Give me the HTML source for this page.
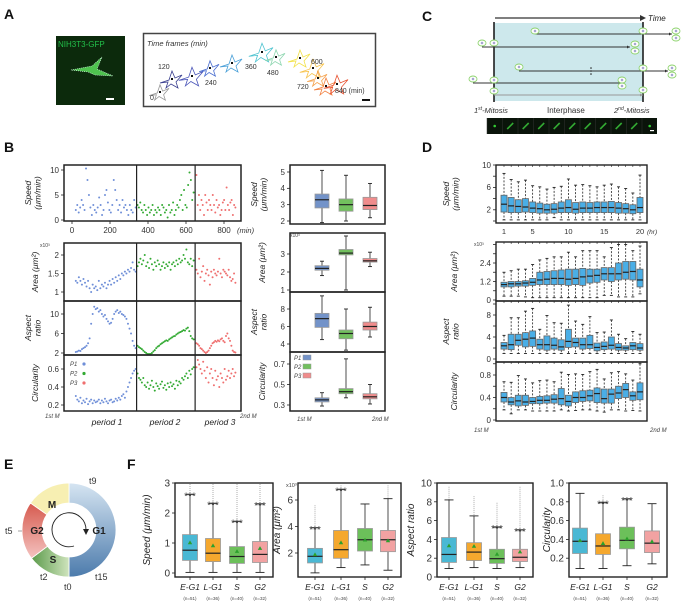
<!DOCTYPE html>
<html><head><meta charset="utf-8"><style>
html,body{margin:0;padding:0;background:#fff;}
svg{display:block;font-family:"Liberation Sans",sans-serif;}
</style></head><body>
<svg id="fig" width="685" height="604" viewBox="0 0 685 604" xmlns="http://www.w3.org/2000/svg">
<g font-weight="bold" font-size="14" fill="#111">
<text x="4" y="19">A</text>
<text x="4" y="152">B</text>
<text x="422" y="21">C</text>
<text x="422" y="152">D</text>
<text x="4" y="469">E</text>
<text x="127" y="469">F</text>
</g>
<!-- Panel A -->
<g>
<rect x="56" y="36" width="69" height="69" fill="#0c2a0c"/>
<text x="58" y="47" font-size="8" fill="#22c04a">NIH3T3-GFP</text>
<path d="M71,70 L92,66 L102,57 L97,69 L113,76 L95,75 L88,72 Z" fill="#4fc24f" stroke="#dfe" stroke-width="0.6" stroke-dasharray="1,1"/>
<rect x="106" y="98" width="8" height="2" fill="#fff"/>
<rect x="143.5" y="33.5" width="232" height="73" fill="#fff" stroke="#444" stroke-width="1.5"/>
<text x="147" y="46" font-size="7.5" font-style="italic" fill="#333">Time frames (min)</text>
<g id="cells"></g>
<g font-size="7" fill="#333">
<text x="150" y="100">0</text><text x="158" y="69">120</text><text x="205" y="85">240</text><text x="245" y="69">360</text><text x="267" y="75">480</text><text x="311" y="64">600</text><text x="297" y="89">720</text><text x="335" y="93">840 (min)</text>
</g>
<rect x="362" y="99" width="8" height="2" fill="#111"/>
</g>
<!-- Panel C -->
<g>
<line x1="495" y1="18" x2="640" y2="18" stroke="#333" stroke-width="1.3"/>
<path d="M640,15 L646,18 L640,21 Z" fill="#333"/>
<text x="648" y="21" font-size="8" font-style="italic" fill="#222">Time</text>
<rect x="494" y="23" width="149" height="78" fill="#cde8ec"/>
<line x1="494" y1="22" x2="494" y2="102" stroke="#111" stroke-width="1.5"/>
<line x1="643" y1="22" x2="643" y2="102" stroke="#111" stroke-width="1.5"/>
<g id="lineage"></g>
<text x="474" y="113" font-size="7.5" font-style="italic" fill="#333">1<tspan font-size="5" dy="-3">st</tspan><tspan dy="3">-Mitosis</tspan></text>
<text x="547" y="113" font-size="8" fill="#333">Interphase</text>
<text x="614" y="113" font-size="7.5" font-style="italic" fill="#333">2<tspan font-size="5" dy="-3">nd</tspan><tspan dy="3">-Mitosis</tspan></text>
<g id="strip"></g>
</g>
<g id="panelB"></g>
<g id="panelD"></g>
<!-- Panel E -->
<g>
<defs>
<linearGradient id="gG1" x1="0" y1="0" x2="0" y2="1"><stop offset="0" stop-color="#d6e5f2"/><stop offset="1" stop-color="#4c7bac"/></linearGradient>
<linearGradient id="gG2" x1="0" y1="0" x2="0" y2="1"><stop offset="0" stop-color="#d65a4e"/><stop offset="1" stop-color="#f4c3c0"/></linearGradient>
<linearGradient id="gS" x1="0" y1="0" x2="1" y2="0"><stop offset="0" stop-color="#5b9a4a"/><stop offset="1" stop-color="#cfe4bd"/></linearGradient>
</defs>
<g id="ring"></g>
</g>
<g id="panelF"></g>
</svg>
<script>
// ---------- Panel B data ----------
const bSpeedP1=[2,3,1.5,2.5,4,3,2,10.3,8,5,2.5,1,3,2,1.5,2.5,4.5,3,1,2,5,6,3.5,2,1.5,3,8,6,4,2,3,1.5,4,2.5,3,2,1,3,2,1.5,4,2.5];
const bSpeedP2=[3,2.5,3.5,2,1.5,3,2,1,2.5,1.5,2,3,1,2,1.5,2.5,2,1,3,2.5,1.5,2,0.5,3,1.5,2,3.5,1,2,3,2.5,4,5,2,6,3,2.5,7,9.5,8,4,5.5];
const bSpeedP3=[9,3,5,2,4,3,1,5,3.5,2,4,3,2,5,3,1.5,4,2.5,3,1,2,3.5,4,2,6.5,3,2,3.5,4,1,3,2.5];
const bAreaP1=[1.3,1.25,1.4,1.3,1.2,1.35,1.25,1.15,1.3,1.1,1.0,1.2,1.1,1.15,1.05,1.3,1.1,1.2,1.15,1.25,1.1,1.2,1.3,1.2,1.35,1.25,1.4,1.3,1.45,1.35,1.5,1.45,1.55,1.5,1.6,1.55,1.65,1.8,1.6,1.55];
const bAreaP2=[1.7,1.8,1.9,1.75,1.85,2.0,1.7,1.8,1.65,1.9,1.75,1.6,1.8,1.7,1.85,1.75,1.6,1.7,1.8,1.65,1.75,1.7,1.8,1.6,1.75,1.8,1.7,1.85,1.75,1.9,1.8,1.85,2.0,1.9,2.15,1.8,1.75,1.9,1.7,1.85];
const bAreaP3=[1.6,1.5,1.9,1.4,1.55,1.7,1.3,1.5,1.6,1.45,1.2,1.55,1.4,1.6,1.5,1.45,1.55,1.9,1.5,1.4,1.6,1.55,1.5,1.45,1.6,1.4,1.3,1.35,1.5,1.25];
const bAspP1=[2.2,2.3,2.5,2.4,2.8,3,3.2,3.5,4,5,8,10,11.5,11,11.2,10.5,10.8,10,9.5,9.8,9,8.5,8,8.2,9,10,10.5,10.8,10.2,10.5,10,9.8,9.5,9,8,7,6,4.5,3.5,3];
const bAspP2=[3.5,3.2,3,2.8,2.5,2.2,2,1.8,1.7,1.8,2,2.3,2.6,3,3.3,3.5,3.8,4,4.2,4.4,4.6,4.5,4.8,5,5.2,5.4,5.5,5.8,6,6.2,6.3,6.5,6.7,6.6,7,7.2,6.5,5.5,5,4.8];
const bAspP3=[4,3.8,3.5,3,2.8,2.5,2.2,2,2.2,2.5,3,3.5,4,4.2,4.5,4.3,4.6,4.4,4.8,5,4.5,4.2,5.5,6,5,4.5,3.5,2.5,2.2,2.1];
const bCircP1=[0.3,0.26,0.24,0.28,0.22,0.25,0.23,0.27,0.21,0.24,0.26,0.22,0.25,0.23,0.24,0.26,0.22,0.25,0.23,0.27,0.24,0.22,0.25,0.26,0.23,0.24,0.27,0.25,0.28,0.26,0.3,0.32,0.28,0.35,0.4,0.45,0.5,0.55,0.58,0.6];
const bCircP2=[0.55,0.5,0.48,0.45,0.5,0.42,0.4,0.45,0.38,0.42,0.47,0.4,0.36,0.44,0.41,0.38,0.43,0.46,0.39,0.42,0.37,0.44,0.4,0.45,0.41,0.43,0.38,0.47,0.42,0.46,0.44,0.5,0.48,0.52,0.55,0.5,0.58,0.54,0.6,0.62];
const bCircP3=[0.62,0.7,0.65,0.6,0.55,0.68,0.58,0.5,0.62,0.45,0.55,0.6,0.5,0.42,0.58,0.48,0.52,0.4,0.55,0.5,0.45,0.6,0.48,0.52,0.58,0.5,0.55,0.6,0.52,0.56];
const periodStartMin=[20,345,655];
const periodEndMin=[335,640,860];
const bBoxSpeed=[[1.9,2.8,3.3,3.65,5.1],[2.0,2.6,3.0,3.35,4.8],[2.2,2.7,2.95,3.45,4.3]];
const bBoxArea=[[1.8,2.1,2.2,2.35,2.6],[1.0,2.95,3.05,3.25,4.0],[2.3,2.55,2.62,2.75,3.1]];
const bBoxAsp=[[4.5,5.9,6.9,7.5,9.5],[3.3,4.6,5.2,5.6,8.0],[4.8,5.6,6.0,6.5,8.2]];
const bBoxCirc=[[0.29,0.33,0.35,0.37,0.42],[0.37,0.41,0.43,0.46,0.75],[0.31,0.36,0.38,0.41,0.5]];
// ---------- Panel D data ----------
const dHours=[1,2,3,4,5,6,7,8,9,10,11,12,13,14,15,16,17,18,19,20];
const dSpeedMed=[3.0,2.7,2.6,2.5,2.3,2.2,2.0,2.1,2.3,2.4,2.1,2.3,2.3,2.4,2.4,2.4,2.3,2.2,2.0,2.4];
const dSpeedQ1=[1.6,1.5,1.5,1.6,1.5,1.4,1.4,1.4,1.5,1.5,1.4,1.5,1.5,1.5,1.5,1.5,1.4,1.4,1.3,1.5];
const dSpeedQ3=[4.6,4.2,3.8,4.0,3.4,3.2,3.0,3.1,3.4,3.8,3.3,3.4,3.3,3.4,3.4,3.5,3.3,3.1,2.9,4.2];
const dSpeedHi=[8.5,7.4,7.0,7.3,6.3,6.1,5.7,6.0,6.2,7.5,6.4,6.5,6.3,6.1,6.4,6.6,6.1,5.8,5.0,8.2];
const dSpeedLo=[0.2,0.2,0.2,0.2,0.2,0.2,0.2,0.6,0.2,0.2,0.2,0.2,0.2,0.2,0.2,0.2,0.2,0.2,0.2,0.2];
const dAreaMed=[1.0,1.05,1.05,1.1,1.15,1.3,1.35,1.4,1.4,1.35,1.4,1.5,1.55,1.6,1.7,1.7,1.7,1.8,1.85,1.3];
const dAreaQ1=[0.85,0.85,0.9,0.9,0.95,1.0,1.0,1.0,1.0,0.95,1.0,0.95,1.1,1.15,1.3,1.2,1.3,1.35,1.3,0.85];
const dAreaQ3=[1.15,1.2,1.2,1.25,1.4,1.8,1.85,1.9,1.95,2.0,2.0,2.05,2.0,2.0,2.1,2.1,2.4,2.5,2.5,2.0];
const dAreaHi=[1.8,1.9,2.0,2.0,2.3,2.6,2.7,2.8,2.8,3.1,2.8,3.2,3.2,3.2,2.8,3.4,3.6,3.6,3.2,3.5];
const dAreaLo=[0.25,0.25,0.25,0.2,0.15,0.15,0.15,0.15,0.15,0.15,0.15,0.15,0.15,0.15,0.3,0.3,0.2,0.2,0.2,0.4];
const dAspMed=[2.4,2.6,3.4,3.6,3.8,2.6,2.6,2.5,2.2,3.2,3.0,2.6,2.6,2.1,2.3,2.5,2.1,2.0,2.4,2.0];
const dAspQ1=[1.8,1.7,2.5,2.2,2.3,1.8,1.6,1.8,1.6,2.1,2.2,1.8,1.9,1.5,1.7,1.8,1.6,1.6,1.7,1.6];
const dAspQ3=[3.0,4.5,4.5,4.8,5.1,3.6,4.2,3.8,3.5,5.4,3.8,3.8,4.3,2.9,3.1,4.0,2.8,2.4,3.0,2.8];
const dAspHi=[4.3,7.5,7.5,8.7,9.2,5.4,7.9,6.6,6.5,9.8,6.9,6.3,7.7,4.8,4.9,7.1,4.5,3.7,5.0,4.5];
const dAspLo=[1.0,1.0,1.0,1.0,1.0,1.0,1.0,1.0,1.0,1.0,1.0,1.0,1.0,1.0,1.0,1.0,1.0,1.0,1.0,1.0];
const dCircMed=[0.40,0.32,0.34,0.32,0.33,0.35,0.35,0.37,0.38,0.33,0.40,0.40,0.43,0.47,0.38,0.46,0.48,0.54,0.43,0.50];
const dCircQ1=[0.32,0.27,0.25,0.26,0.29,0.29,0.30,0.30,0.27,0.25,0.31,0.33,0.34,0.31,0.30,0.30,0.38,0.40,0.35,0.36];
const dCircQ3=[0.49,0.40,0.44,0.44,0.40,0.42,0.43,0.45,0.56,0.44,0.50,0.52,0.53,0.57,0.55,0.55,0.60,0.65,0.50,0.66];
const dCircHi=[0.68,0.67,0.79,0.73,0.66,0.70,0.71,0.68,0.85,0.81,0.82,0.81,0.86,0.90,0.73,0.84,0.86,0.82,0.71,1.0];
const dCircLo=[0.18,0.11,0.18,0.18,0.16,0.16,0.16,0.16,0.18,0.16,0.17,0.18,0.18,0.16,0.14,0.18,0.18,0.16,0.17,0.16];
// ---------- Panel F data ----------
const fPhases=["E-G1","L-G1","S","G2"];
const fCounts=["(n=51)","(n=36)","(n=40)","(n=32)"];
const fSpeedStats=[[0.02,0.42,0.76,1.28,2.62],[0.02,0.38,0.66,1.15,2.32],[0.02,0.32,0.55,0.88,1.72],[0.02,0.35,0.62,1.05,2.3]];
const fSpeedMean=[1.02,0.92,0.73,0.83];
const fSpeedOutMax=[3,3,3,3];
const fSpeedSig=[true,true,true,true];
const fAreaStats=[[0.5,1.25,1.75,2.35,3.9],[0.9,1.6,2.25,3.7,6.8],[1.1,2.15,3.0,3.85,5.7],[0.7,2.1,3.0,3.7,6.1]];
const fAreaMean=[1.9,2.8,3.0,2.95];
const fAreaOutMax=[5.6,7.1,5.7,7.1];
const fAreaSig=[true,true,false,false];
const fAspStats=[[0.9,1.55,2.4,4.2,8.2],[1.0,1.75,2.65,3.65,6.5],[0.9,1.45,1.95,2.95,5.3],[1.0,1.65,2.1,2.95,5.0]];
const fAspMean=[3.35,3.3,2.45,2.7];
const fAspOutMax=[9.6,8.6,7.9,9.6];
const fAspSig=[false,false,true,true];
const fCircStats=[[0.09,0.25,0.38,0.52,0.89],[0.09,0.24,0.33,0.46,0.79],[0.12,0.30,0.39,0.53,0.83],[0.14,0.26,0.36,0.49,0.78]];
const fCircMean=[0.39,0.36,0.41,0.38];
const fCircOutMax=[0.89,0.87,0.83,0.78];
const fCircSig=[false,true,true,false];

const NS="http://www.w3.org/2000/svg";
function mk(parent,tag,attrs,name){
  const el=document.createElementNS(NS,tag);
  for(const k in attrs) el.setAttribute(k,attrs[k]);
  
  
  parent.appendChild(el);return el;
}
function txt(parent,x,y,s,attrs,name){
  const t=mk(parent,'text',Object.assign({x:x,y:y},attrs||{}),name);t.textContent=s;return t;
}
function lin(d0,d1,r0,r1){return v=>r0+(v-d0)*(r1-r0)/(d1-d0);}

(function(){
  const g=document.getElementById('cells');
  const shapes=[[160,92,'#999'],[172,79,'#3a3f8f'],[192,76,'#4a55b8'],[210,68,'#4a6ed0'],[232,63,'#4aa0d8'],[262,52,'#4ec3d0'],[276,57,'#8ed6b0'],[300,58,'#f2e24a'],[313,68,'#f7c24a'],[318,78,'#f5a04a'],[326,86,'#f28040'],[337,84,'#e8502e']];
  const off=[[-12,4],[-3,1],[0,-8],[3,-1],[10,-4],[4,3],[6,9],[-1,5],[-6,9],[-4,3]];
  shapes.forEach((s,i)=>{
    const sc=0.9+0.1*(i%3);
    const pts=off.map(o=>(s[0]+o[0]*sc)+','+(s[1]+o[1]*sc)).join(' ');
    mk(g,'polygon',{points:pts,fill:'none',stroke:s[2],'stroke-width':0.8},'cell-outline');
    mk(g,'rect',{x:s[0]-1,y:s[1]-1,width:2,height:2,fill:'#111'},'cell-centroid');
  });
})();
(function(){
  const g=document.getElementById('lineage');
  const tracks=[[535,34,672,'#333'],[482,47,630,'#333'],[519,71,668,'#333'],[473,83,622,'#333'],[494,95,643,'#999']];
  tracks.forEach(t=>{
    mk(g,'line',{x1:t[0],y1:t[1],x2:t[2],y2:t[1],stroke:t[3],'stroke-width':0.9},'lineage-track');
    mk(g,'path',{d:`M${t[2]-3},${t[1]-1.5} L${t[2]},${t[1]} L${t[2]-3},${t[1]+1.5}Z`,fill:t[3]},'track-arrowhead');
  });
  const cells=[[535,31],[643,31],[676,31],[676,38],[482,43],[494,43],[635,44],[635,51],[519,67],[643,68],[672,68],[672,75],[473,79],[494,80],[622,80],[622,86],[494,91],[643,90]];
  cells.forEach(c=>{
    mk(g,'ellipse',{cx:c[0],cy:c[1],rx:4,ry:3,fill:'#fff',stroke:'#8fd36f','stroke-width':0.9},'cell-icon');
    mk(g,'circle',{cx:c[0],cy:c[1],r:1,fill:'none',stroke:'#55a','stroke-width':0.5},'cell-nucleus');
  });
  [68,71,74].forEach(y=>mk(g,'circle',{cx:591,cy:y,r:0.8,fill:'#222'},'ellipsis-dot'));
  const s=document.getElementById('strip');
  mk(s,'rect',{x:487,y:118,width:170,height:16,fill:'#0a140a'},'strip-background');
  for(let i=0;i<11;i++){
    mk(s,'line',{x1:487+i*15.5,y1:118,x2:487+i*15.5,y2:134,stroke:'#333','stroke-width':0.5},'strip-divider');
    const cx=487+i*15.5+7.7;
    if(i===0||i===10) mk(s,'circle',{cx:cx,cy:126,r:1.3,fill:'#3c3'},'strip-cell');
    else mk(s,'line',{x1:cx-3,y1:129,x2:cx+3,y2:123,stroke:'#3a3','stroke-width':1.6},'strip-cell');
  }
  mk(s,'rect',{x:650,y:130,width:4,height:1.2,fill:'#fff'},'strip-scale-bar');
})();

function boxPlot(g,cx,w,st,ys,fill,o){
  o=o||{};
  const dash=o.dash||'';
  mk(g,'line',{x1:cx,y1:ys(st[4]),x2:cx,y2:ys(st[3]),stroke:'#222','stroke-width':0.8,'stroke-dasharray':dash},'whisker-upper');
  mk(g,'line',{x1:cx,y1:ys(st[1]),x2:cx,y2:ys(st[0]),stroke:'#222','stroke-width':0.8,'stroke-dasharray':dash},'whisker-lower');
  const cw=o.cap||w*0.5;
  mk(g,'line',{x1:cx-cw/2,y1:ys(st[4]),x2:cx+cw/2,y2:ys(st[4]),stroke:'#222','stroke-width':0.9},'whisker-cap');
  mk(g,'line',{x1:cx-cw/2,y1:ys(st[0]),x2:cx+cw/2,y2:ys(st[0]),stroke:'#222','stroke-width':0.9},'whisker-cap');
  mk(g,'rect',{x:cx-w/2,y:ys(st[3]),width:w,height:Math.max(0.5,ys(st[1])-ys(st[3])),fill:fill,stroke:o.stroke||'#777','stroke-width':0.8},'box');
  mk(g,'line',{x1:cx-w/2,y1:ys(st[2]),x2:cx+w/2,y2:ys(st[2]),stroke:'#222','stroke-width':1.2},'median-line');
}
function frame(g,x0,y0,x1,y1,sw,name){
  mk(g,'rect',{x:x0,y:y0,width:x1-x0,height:y1-y0,fill:'none',stroke:'#222','stroke-width':sw||1.3},name||'plot-frame');
}
function yTicks(g,x,vals,ys,fs,labs){
  vals.forEach((v,i)=>{
    mk(g,'line',{x1:x-3,y1:ys(v),x2:x,y2:ys(v),stroke:'#222','stroke-width':0.8},'y-tick');
    if(labs[i]!=='') txt(g,x-5,ys(v)+fs*0.35,labs[i],{'font-size':fs,'text-anchor':'end',fill:'#333'},'y-tick-label');
  });
}
function yTitle(g,x,y,lines,fs){
  const t=mk(g,'text',{transform:`translate(${x},${y}) rotate(-90)`,'font-size':fs,'font-style':'italic','text-anchor':'middle',fill:'#222'},'y-axis-title');
  lines.forEach((l,i)=>{const ts=document.createElementNS(NS,'tspan');ts.setAttribute('x',0);ts.setAttribute('dy',i===0?0:fs+1);ts.textContent=l;t.appendChild(ts);});
}

(function(){
  const g=document.getElementById('panelB');
  const xs=lin(0,800,72,224);
  const cols=['#6f8fd8','#33aa33','#ef6f6f'];
  const panels=[
    {y0:165,y1:221,ys:lin(0,10,220,170),d:[bSpeedP1,bSpeedP2,bSpeedP3],ticks:[0,5,10],labs:['0','5','10'],t:['Speed','(μm/min)'],bb:bBoxSpeed,bys:lin(2,5,221,172),bt:[2,3,4,5],bl:['2','3','4','5'],by0:165,by1:224},
    {y0:243,y1:301,ys:lin(1,2,292,255),d:[bAreaP1,bAreaP2,bAreaP3],ticks:[1,1.5,2],labs:['1','1.5','2'],t:['Area (μm²)'],bb:bBoxArea,bys:lin(1,3,290,254),bt:[1,2,3],bl:['1','2','3'],by0:233,by1:292},
    {y0:301,y1:355,ys:lin(2,10,353,314),d:[bAspP1,bAspP2,bAspP3],ticks:[2,6,10],labs:['2','6','10'],t:['Aspect','ratio'],bb:bBoxAsp,bys:lin(4,8,344,309),bt:[4,6,8],bl:['4','6','8'],by0:292,by1:352},
    {y0:355,y1:411,ys:lin(0.2,0.6,405,369),d:[bCircP1,bCircP2,bCircP3],ticks:[0.2,0.4,0.6],labs:['0.2','0.4','0.6'],t:['Circularity'],bb:bBoxCirc,bys:lin(0.3,0.7,405,364),bt:[0.3,0.5,0.7],bl:['0.3','0.5','0.7'],by0:352,by1:411}
  ];
  panels.forEach((p,pi)=>{
    p.d.forEach((arr,k)=>{
      const xm=lin(0,arr.length-1,periodStartMin[k],periodEndMin[k]);
      arr.forEach((v,i)=>{
        const y=Math.max(p.y0+1,Math.min(p.y1-1,p.ys(v)));
        mk(g,'circle',{cx:xs(xm(i)),cy:y,r:1,fill:cols[k]},'scatter-point-p'+(k+1));
      });
    });
    frame(g,64,p.y0,241,p.y1,1.5,'scatter-frame');
    [xs(periodEndMin[0]+5),xs(periodEndMin[1]+8)].forEach(x=>mk(g,'line',{x1:x,y1:p.y0,x2:x,y2:p.y1,stroke:'#222','stroke-width':1.2},'period-divider'));
    yTicks(g,64,p.ticks,p.ys,8,p.labs);
    yTitle(g,p.t.length>1?31:38,(p.y0+p.y1)/2,p.t,8.5);
    frame(g,290,p.by0,385,p.by1,1.5,'box-frame');
    const bcols=['#7393c9','#72c05e','#f08c8c'];
    const bx=[322,346,370];
    p.bb.forEach((st,k)=>boxPlot(g,bx[k],14,st,p.bys,bcols[k],{cap:4,stroke:'#999'}));
    yTicks(g,290,p.bt,p.bys,8,p.bl);
    yTitle(g,p.t.length>1?257:265,(p.by0+p.by1)/2,p.t,8.5);
  });
  txt(g,40,247,'x10³',{'font-size':5,fill:'#444'},'area-multiplier');
  txt(g,290,237,'x10³',{'font-size':5,fill:'#444'},'box-area-multiplier');
  [0,200,400,600,800].forEach(v=>{
    mk(g,'line',{x1:xs(v),y1:221,x2:xs(v),y2:224,stroke:'#222','stroke-width':0.8},'x-tick');
    txt(g,xs(v),233,String(v),{'font-size':8,'text-anchor':'middle',fill:'#333'},'x-tick-label');
  });
  txt(g,237,233,'(min)',{'font-size':7.5,'font-style':'italic',fill:'#333'},'x-unit-label');
  const lc=['#6f8fd8','#33aa33','#ef6f6f'];const lb=['#7393c9','#72c05e','#f08c8c'];
  ['P1','P2','P3'].forEach((l,i)=>{
    txt(g,70,366+i*9.5,l,{'font-size':6,'font-style':'italic',fill:'#444'},'legend-label');
    mk(g,'circle',{cx:84,cy:364+i*9.5,r:1.6,fill:lc[i]},'legend-marker');
    txt(g,294,360+i*9,l,{'font-size':6,'font-style':'italic',fill:'#444'},'box-legend-label');
    mk(g,'rect',{x:303,y:355+i*9,width:8,height:5,fill:lb[i],stroke:'#999','stroke-width':0.5},'box-legend-marker');
  });
  txt(g,45,418,'1st M',{'font-size':6,'font-style':'italic',fill:'#444'},'first-m-label');
  txt(g,240,418,'2nd M',{'font-size':6,'font-style':'italic',fill:'#444'},'second-m-label');
  txt(g,297,421,'1st M',{'font-size':6,'font-style':'italic',fill:'#444'},'box-first-m-label');
  txt(g,372,421,'2nd M',{'font-size':6,'font-style':'italic',fill:'#444'},'box-second-m-label');
  ['period 1','period 2','period 3'].forEach((l,i)=>txt(g,[107,165,220][i],425,l,{'font-size':8.5,'font-style':'italic','text-anchor':'middle',fill:'#222'},'period-label'));
})();

(function(){
  const g=document.getElementById('panelD');
  const x0=496,x1=647;
  const xs=lin(1,20,504,640);
  const panels=[
    {y0:165,y1:223,ys:lin(0,10,221,165),m:[dSpeedLo,dSpeedQ1,dSpeedMed,dSpeedQ3,dSpeedHi],t:['Speed','(μm/min)'],tk:[0,2,4,6,8,10],tl:['','2','','6','','10']},
    {y0:242,y1:301,ys:lin(0,2.4,300,263),m:[dAreaLo,dAreaQ1,dAreaMed,dAreaQ3,dAreaHi],t:['Area (μm²)'],tk:[0,0.6,1.2,1.8,2.4,3.0,3.6],tl:['0','','1.2','','2.4','','']},
    {y0:301,y1:362,ys:lin(0,8,359,315),m:[dAspLo,dAspQ1,dAspMed,dAspQ3,dAspHi],t:['Aspect','ratio'],tk:[0,2,4,6,8,10],tl:['0','','4','','8','']},
    {y0:362,y1:421,ys:lin(0,0.8,420,375),m:[dCircLo,dCircQ1,dCircMed,dCircQ3,dCircHi],t:['Circularity'],tk:[0,0.2,0.4,0.6,0.8,1.0],tl:['0','','0.4','','0.8','']}
  ];
  panels.forEach(p=>{
    dHours.forEach((h,i)=>{
      const st=p.m.map(a=>a[i]);
      boxPlot(g,xs(h),6,st,p.ys,'#4aaee6',{dash:'2,1.5',cap:3,stroke:'#666'});
    });
    frame(g,x0,p.y0,x1,p.y1,1.4,'d-frame');
    yTicks(g,x0,p.tk,p.ys,8,p.tl);
    dHours.forEach(h=>mk(g,'line',{x1:xs(h),y1:p.y0,x2:xs(h),y2:p.y0+2,stroke:'#222','stroke-width':0.6},'x-minor-tick'));
    yTitle(g,p.t.length>1?449:457,(p.y0+p.y1)/2,p.t,8.5);
  });
  [1,5,10,15,20].forEach(h=>txt(g,xs(h),234,String(h),{'font-size':7.5,'text-anchor':'middle',fill:'#333'},'x-tick-label'));
  txt(g,647,234,'(hr)',{'font-size':6.5,'font-style':'italic',fill:'#333'},'x-unit-label');
  txt(g,474,246,'x10³',{'font-size':5,fill:'#444'},'area-multiplier');
  txt(g,474,432,'1st M',{'font-size':6,'font-style':'italic',fill:'#444'},'first-m-label');
  txt(g,650,432,'2nd M',{'font-size':6,'font-style':'italic',fill:'#444'},'second-m-label');
})();

(function(){
  const g=document.getElementById('ring');
  const cx=69,cy=530,R=47,r=27;
  function pt(a,rad){const t=(a-90)*Math.PI/180;return [cx+rad*Math.cos(t),cy+rad*Math.sin(t)];}
  function seg(a0,a1,fill,name){
    const p0=pt(a0,R),p1=pt(a1,R),p2=pt(a1,r),p3=pt(a0,r);const lg=(a1-a0)>180?1:0;
    mk(g,'path',{d:`M${p0} A${R},${R} 0 ${lg} 1 ${p1} L${p2} A${r},${r} 0 ${lg} 0 ${p3}Z`,fill:fill,stroke:'#fff','stroke-width':0.8},name);
  }
  seg(0,180,'url(#gG1)','segment-g1');
  seg(180,233,'url(#gS)','segment-s');
  seg(233,305,'url(#gG2)','segment-g2');
  seg(305,360,'#f7efb2','segment-m');
  mk(g,'path',{d:`M${cx+17},${cy} A17,17 0 1 0 ${cx+5},${cy+16}`,fill:'none',stroke:'#222','stroke-width':0.9},'cycle-arrow');
  mk(g,'path',{d:`M${cx+14},${cy-1} L${cx+20},${cy-1} L${cx+17},${cy+5}Z`,fill:'#222'},'cycle-arrowhead');
  [['G1',99,534],['G2',37,534],['M',52,508],['S',53,563]].forEach(l=>txt(g,l[1],l[2],l[0],{'font-size':10,'font-weight':'bold','text-anchor':'middle',fill:'#222'},'phase-label'));
  [['t9',89,484],['t5',5,534],['t15',95,580],['t2',40,580],['t0',64,590]].forEach(l=>txt(g,l[1],l[2],l[0],{'font-size':9,fill:'#333'},'time-point-label'));
  mk(g,'line',{x1:18,y1:531,x2:22,y2:531,stroke:'#666','stroke-width':0.6},'t5-tick');
})();

(function(){
  const g=document.getElementById('panelF');
  const fcols=['#4ab8d4','#f5a82e','#6cc05a','#f2a2a2'];
  const panels=[
    {x0:175,x1:273,cx:[190,213,237,260],ys:lin(0,3,573,483),st:fSpeedStats,mean:fSpeedMean,om:fSpeedOutMax,sig:fSpeedSig,tk:[0,1,2,3],tl:['0','1','2','3'],t:'Speed (μm/min)',tx:150},
    {x0:298,x1:401,cx:[315,341,365,388],ys:lin(2,6,553,500),st:fAreaStats,mean:fAreaMean,om:fAreaOutMax,sig:fAreaSig,tk:[2,4,6],tl:['2','4','6'],t:'Area (μm²)',tx:280},
    {x0:437,x1:533,cx:[449,474,497,520],ys:lin(0,10,577,483),st:fAspStats,mean:fAspMean,om:fAspOutMax,sig:fAspSig,tk:[0,2,4,6,8,10],tl:['0','2','4','6','8','10'],t:'Aspect ratio',tx:414},
    {x0:569,x1:667,cx:[580,603,627,652],ys:lin(0,1,577,483),st:fCircStats,mean:fCircMean,om:fCircOutMax,sig:fCircSig,tk:[0.2,0.4,0.6,0.8,1.0],tl:['0.2','0.4','0.6','0.8','1.0'],t:'Circularity',tx:550}
  ];
  panels.forEach(p=>{
    p.st.forEach((st,i)=>{
      const cx=p.cx[i];
      if(p.om[i]>st[4]) mk(g,'line',{x1:cx,y1:Math.max(484,p.ys(p.om[i])),x2:cx,y2:p.ys(st[4]),stroke:'#999','stroke-width':0.8,'stroke-dasharray':'1,1'},'outlier-points');
      boxPlot(g,cx,15,st,p.ys,fcols[i],{cap:9,stroke:'#999'});
      const my=p.ys(p.mean[i]);
      mk(g,'path',{d:`M${cx-2.2},${my+1.8} L${cx+2.2},${my+1.8} L${cx},${my-2}Z`,fill:'#2ca02c'},'mean-marker');
      if(p.sig[i]) txt(g,cx,p.ys(st[4])+5,'***',{'font-size':10,'text-anchor':'middle',fill:'#333'},'significance-stars');
    });
    frame(g,p.x0,483,p.x1,577,1.4,'f-frame');
    yTicks(g,p.x0,p.tk,p.ys,10,p.tl);
    p.cx.forEach((cx,i)=>{
      mk(g,'line',{x1:cx,y1:577,x2:cx,y2:580,stroke:'#222','stroke-width':0.8},'x-tick');
      txt(g,cx,590,fPhases[i],{'font-size':8.5,'font-style':'italic','text-anchor':'middle',fill:'#222'},'x-tick-label');
      txt(g,cx,600,fCounts[i],{'font-size':4.5,'text-anchor':'middle',fill:'#444'},'sample-size-label');
    });
    yTitle(g,p.tx,530,[p.t],10);
  });
  txt(g,286,487,'x10³',{'font-size':5.5,fill:'#444'},'area-multiplier');
})();
</script>
</body></html>
